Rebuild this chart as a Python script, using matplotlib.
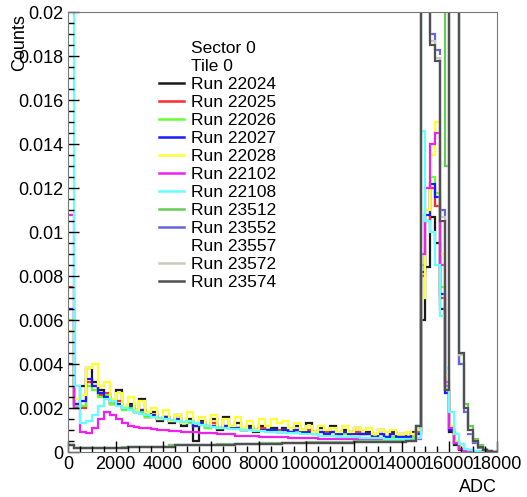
import matplotlib.pyplot as plt
import numpy as np
from matplotlib.lines import Line2D

plt.rcParams['font.family'] = ['Liberation Sans', 'DejaVu Sans']

# bin edges: 250 ADC up to 14000, then 200 ADC through the peak
edges = np.concatenate([np.arange(0, 14000, 250), np.arange(14000, 18001, 200)])

# bin contents in units of 1e-4 counts
run_22024 = [40, 20, 30, 38, 32, 28, 26, 22, 28, 20, 22, 19, 24, 16, 18, 14, 16, 13, 17, 12, 15, 5, 14, 11, 15, 10, 16, 11,
             13, 10, 12, 9, 12, 10, 11, 9, 11, 9, 12, 10, 13, 8, 11, 9, 12, 8, 10, 9, 11, 8, 9, 7, 10, 7, 9, 8,
             8, 7, 9, 10, 60, 84, 107, 95, 65, 28, 9, 3, 1, 0.5, 0.2, 0, 0, 0, 0, 0]
run_22025 = [75, 22, 20, 32, 30, 26, 27, 22, 23, 20, 21, 18, 19, 16, 17, 15, 16, 14, 15, 13, 14, 12, 13, 12, 13, 11, 12, 11,
             11, 10, 11, 10, 11, 10, 10, 10, 10, 9, 10, 9, 10, 9, 9, 9, 9, 8, 9, 8, 9, 8, 8, 8, 8, 7, 8, 7,
             7, 7, 8, 9, 80, 105, 120, 112, 70, 28, 10, 4, 1.5, 0.5, 0.2, 0, 0, 0, 0, 0]
run_22026 = [60, 21, 21, 30, 28, 25, 26, 22, 22, 19, 20, 18, 18, 16, 16, 15, 15, 14, 14, 13, 13, 12, 13, 11, 12, 11, 11, 11,
             11, 10, 10, 10, 10, 10, 10, 9, 10, 9, 9, 9, 9, 9, 9, 8, 9, 8, 8, 8, 8, 8, 8, 7, 8, 7, 7, 7,
             7, 7, 7, 8, 85, 110, 125, 118, 75, 30, 11, 4, 1.5, 0.5, 0.2, 0, 0, 0, 0, 0]
run_22027 = [65, 22, 23, 33, 30, 27, 25, 23, 22, 20, 21, 18, 19, 17, 17, 15, 16, 14, 15, 13, 14, 12, 13, 12, 12, 11, 12, 11,
             11, 10, 11, 10, 10, 10, 10, 9, 10, 9, 10, 9, 9, 9, 9, 8, 9, 8, 9, 8, 8, 8, 8, 7, 8, 7, 8, 7,
             7, 7, 8, 8, 82, 108, 122, 116, 72, 27, 10, 4, 1.5, 0.5, 0.2, 0, 0, 0, 0, 0]
run_22028 = [55, 24, 26, 38, 40, 30, 32, 24, 27, 21, 25, 19, 23, 18, 20, 15, 19, 14, 17, 13, 18, 13, 16, 12, 17, 11, 15, 12,
             16, 11, 14, 10, 15, 12, 15, 13, 14, 11, 13, 10, 12, 9, 12, 10, 11, 9, 12, 9, 11, 10, 11, 8, 10, 9, 10, 8,
             8, 9, 8, 10, 70, 110, 135, 150, 90, 35, 12, 5, 2, 1, 0.5, 0.2, 0, 0, 0, 0]
run_22102 = [108, 20, 9, 8.5, 11, 15, 18, 17, 15, 13, 12, 11.5, 11, 11, 10.5, 10, 10, 9.5, 9.5, 9, 9, 9, 8.5, 8.5, 8.5, 8, 8, 8,
             7.5, 7.5, 7.5, 7.5, 7, 7, 7, 7, 7, 6.5, 6.5, 6.5, 6.5, 6.5, 6, 6, 6, 6, 6, 6, 6, 5.5, 5.5, 5.5, 5.5, 5.5, 5.5, 5.5,
             5.5, 5.5, 6, 6, 90, 120, 140, 145, 85, 32, 11, 4, 1.5, 0.5, 0.2, 0, 0, 0, 0, 0]
run_22108 = [250, 30, 13, 14, 17, 21, 24, 23, 21, 20, 19, 18, 17.5, 17, 16, 15.5, 15, 14.5, 14, 13.5, 14, 13, 12.5, 12, 11.5, 11, 11, 10.5,
             10.5, 10, 10, 9.5, 9.5, 9, 9, 9, 8.5, 8.5, 8.5, 8, 8, 8, 7.5, 7.5, 7.5, 7, 7, 7, 7, 6.5, 6.5, 6.5, 6.5, 6, 6, 6,
             6, 6, 6, 6.5, 146, 105, 100, 85, 62, 38, 18, 8, 3.5, 1.5, 0.7, 0.3, 0.1, 0, 0, 0]
run_23512 = [3, 2, 2, 2, 2, 2, 2, 2, 2, 2.5, 2.5, 2.5, 2.5, 2.5, 2.5, 2.5, 2.5, 3, 3, 3, 3, 3, 3, 3, 3, 3.5, 3.5, 3.5,
             3.5, 3.5, 3.5, 3.5, 4, 4, 4, 4, 4, 4, 4, 4, 4.5, 4.5, 4.5, 4.5, 4.5, 4.5, 4.5, 4.5, 5, 5, 5, 5, 5, 5, 5, 5,
             5, 5, 5.5, 12, 250, 250, 250, 250, 250, 130, 250, 250, 40, 22, 12, 6, 3, 1.5, 0.6, 0.2]
run_23552 = [3, 2, 2, 2, 2, 2, 2, 2, 2, 2, 2.5, 2.5, 2.5, 2.5, 2.5, 2.5, 2.5, 2.5, 3, 3, 3, 3, 3, 3, 3, 3, 3, 3,
             3.5, 3.5, 3.5, 3.5, 3.5, 3.5, 3.5, 3.5, 4, 4, 4, 4, 4, 4, 4, 4, 4, 4, 4, 4, 4.5, 4.5, 4.5, 4.5, 4.5, 4.5, 4.5, 4.5,
             4.5, 5, 5, 12, 250, 250, 190, 183, 110, 30, 250, 250, 40, 18, 8, 4, 2, 0.8, 0.3, 0]
run_23557 = [3, 2, 2, 2, 2, 2, 2, 2, 2, 2, 2.5, 2.5, 2.5, 2.5, 2.5, 2.5, 2.5, 2.5, 3, 3, 3, 3, 3, 3, 3, 3, 3, 3,
             3.5, 3.5, 3.5, 3.5, 3.5, 3.5, 3.5, 3.5, 4, 4, 4, 4, 4, 4, 4, 4, 4, 4, 4, 4, 4.5, 4.5, 4.5, 4.5, 4.5, 4.5, 4.5, 4.5,
             4.5, 5, 5, 12, 250, 250, 186, 180, 106, 29, 250, 250, 44, 20, 9, 5, 2.5, 1, 0.4, 0]
run_23572 = [3, 2, 2, 2, 2, 2, 2, 2, 2, 2, 2.5, 2.5, 2.5, 2.5, 2.5, 2.5, 2.5, 2.5, 3, 3, 3, 3, 3, 3, 3, 3, 3, 3,
             3.5, 3.5, 3.5, 3.5, 3.5, 3.5, 3.5, 3.5, 4, 4, 4, 4, 4, 4, 4, 4, 4, 4, 4, 4, 4.5, 4.5, 4.5, 4.5, 4.5, 4.5, 4.5, 4.5,
             4.5, 5, 5, 12, 250, 250, 187, 179, 107, 29, 250, 250, 44, 20, 10, 5, 2.5, 1, 0.4, 0]
run_23574 = [3, 2, 2, 2, 2, 2, 2, 2, 2, 2, 2.5, 2.5, 2.5, 2.5, 2.5, 2.5, 2.5, 2.5, 3, 3, 3, 3, 3, 3, 3, 3, 3, 3,
             3.5, 3.5, 3.5, 3.5, 3.5, 3.5, 3.5, 3.5, 4, 4, 4, 4, 4, 4, 4, 4, 4, 4, 4, 4, 4.5, 4.5, 4.5, 4.5, 4.5, 4.5, 4.5, 4.5,
             4.5, 5, 5, 12, 250, 250, 185, 178, 105, 28, 250, 250, 45, 20, 10, 5, 2.5, 1, 0.4, 0]

runs = ["22024", "22025", "22026", "22027", "22028", "22102", "22108",
        "23512", "23552", "23557", "23572", "23574"]
data = [run_22024, run_22025, run_22026, run_22027, run_22028, run_22102, run_22108,
        run_23512, run_23552, run_23557, run_23572, run_23574]
colors = ["#1a1a1a", "#ff2a2a", "#66ff33", "#1a1aff", "#ffff33", "#ee22ee", "#66ffff",
          "#66cc55", "#6464dc", "#ffffff", "#ccc8c0", "#505050"]

fig = plt.figure(figsize=(5.27, 4.97), dpi=100)
ax = fig.add_axes([0.129, 0.0905, 0.814, 0.885])

handles = [Line2D([], [], color="none", label="Sector 0"),
           Line2D([], [], color="none", label="Tile 0")]
for name, vals, col in zip(runs, data, colors):
    ax.stairs(np.array(vals) * 1e-4, edges, color=col, lw=1.6, baseline=None)
    handles.append(Line2D([], [], color=col, lw=1.8, label="Run " + name))

ax.set_xlim(0, 18000)
ax.set_ylim(0, 0.02)
ax.set_xticks(np.arange(0, 18001, 2000))
ax.set_xticks(np.arange(0, 18001, 500), minor=True)
ax.set_yticks(np.arange(0, 0.0201, 0.002))
ax.set_yticks(np.arange(0, 0.0201, 0.0005), minor=True)
ax.set_yticklabels(["0", "0.002", "0.004", "0.006", "0.008", "0.01",
                    "0.012", "0.014", "0.016", "0.018", "0.02"])
ax.tick_params(which="both", direction="in", labelsize=13, top=False, right=False)
ax.tick_params(which="major", length=8, width=1, pad=3)
ax.tick_params(which="minor", length=4, width=1)
for sp in ax.spines.values():
    sp.set_color("#777777")

ax.set_xlabel("ADC", fontsize=13, loc="right", labelpad=4)
ax.set_ylabel("Counts", fontsize=13, loc="top")
ax.yaxis.set_label_coords(-0.093, 0.995)

ax.legend(handles=handles, loc="upper left", bbox_to_anchor=(0.212, 0.935),
          frameon=False, fontsize=12.5, handlelength=1.45, handletextpad=0.4,
          labelspacing=0.165, borderpad=0, borderaxespad=0)

fig.savefig("out.png", dpi=100)
